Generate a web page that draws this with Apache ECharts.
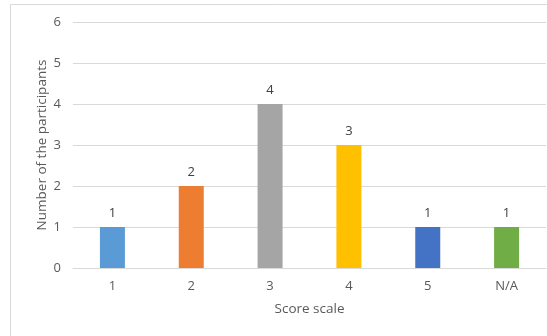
<!DOCTYPE html>
<html><head><meta charset="utf-8">
<script src="https://cdn.jsdelivr.net/npm/echarts@6/dist/echarts.min.js"></script>
<style>html,body{margin:0;padding:0;background:#fff}#c{width:547px;height:336px}</style>
</head><body><div id="c"></div>
<script>
const categories = ['1','2','3','4','5','N/A'];
const values = [1,2,4,3,1,1];
const colors = ['#5B9BD5','#ED7D31','#A5A5A5','#FFC000','#4472C4','#70AD47'];
const yTicks = [0,1,2,3,4,5,6];
const font = 'Open Sans';
const chart = echarts.init(document.getElementById('c'), null, {renderer:'canvas'});
chart.setOption({
  animation:false,
  backgroundColor:'#fff',
  graphic:[{type:'rect',shape:{x:10.5,y:4.5,width:700,height:500},style:{fill:'none',stroke:'#d9d9d9',lineWidth:1},silent:true,z:-1}],
  grid:{left:73,right:1,top:22,bottom:68},
  xAxis:{type:'category',data:categories,
    name:'Score scale',nameLocation:'middle',nameGap:34,nameMoveOverlap:false,
    nameTextStyle:{color:'#595959',fontSize:13.5,fontFamily:font},
    axisLine:{show:true,lineStyle:{color:'#d9d9d9'}},axisTick:{show:false},
    axisLabel:{color:'#595959',fontSize:13,fontFamily:font,margin:12}},
  yAxis:{type:'value',min:yTicks[0],max:yTicks[yTicks.length-1],interval:1,
    name:'Number of the participants',nameLocation:'middle',nameGap:24,nameMoveOverlap:false,
    nameTextStyle:{color:'#595959',fontSize:13.5,fontFamily:font},
    axisLine:{show:false},axisTick:{show:false},
    splitLine:{lineStyle:{color:'#d9d9d9'}},
    axisLabel:{color:'#595959',fontSize:13,fontFamily:font,margin:12}},
  series:[{type:'bar',barWidth:25,
    data:values.map((v,i)=>({value:v,itemStyle:{color:colors[i]}})),
    label:{show:true,position:'top',distance:7,color:'#404040',fontSize:13,fontFamily:font}}]
});
</script></body></html>
